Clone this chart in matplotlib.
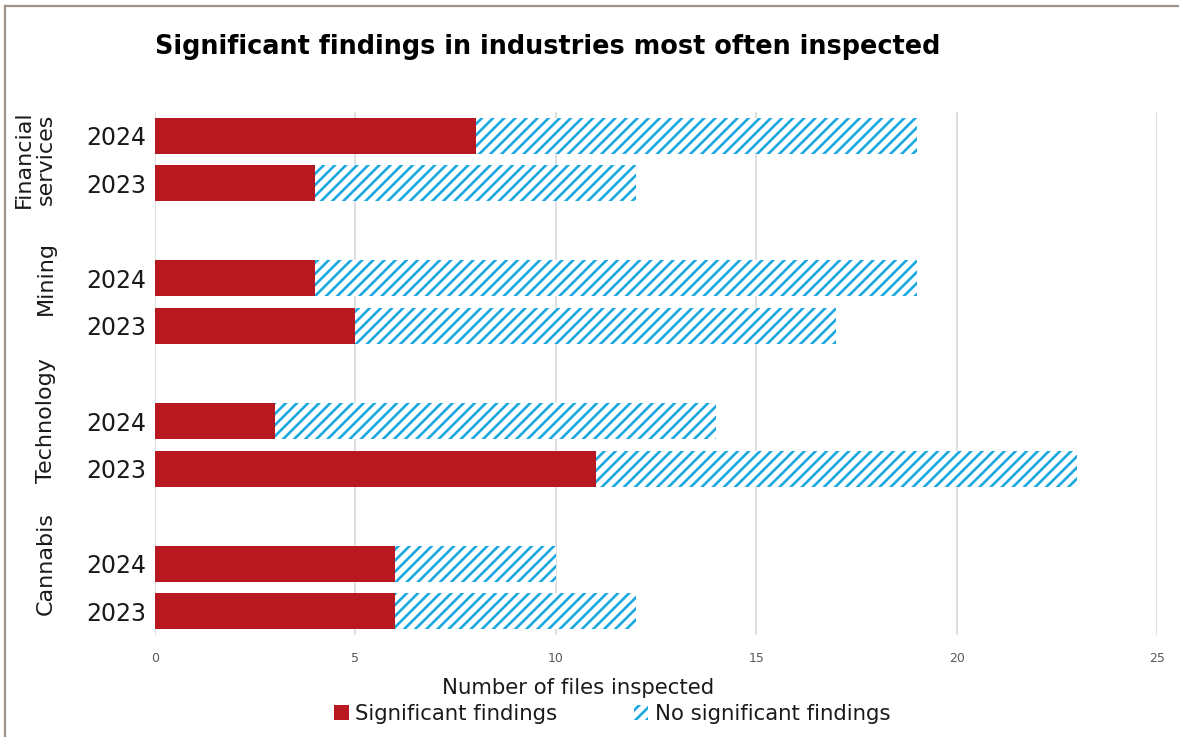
import matplotlib
matplotlib.use("Agg")
import matplotlib.pyplot as plt
from matplotlib.patches import Patch
from matplotlib.lines import Line2D

# data
industries = ["Financial\nservices", "Mining", "Technology", "Cannabis"]
years = ["2024", "2023"]
significant = [8, 4, 4, 5, 3, 11, 6, 6]
no_significant = [11, 8, 15, 12, 11, 12, 4, 6]
x_ticks = [0, 5, 10, 15, 20, 25]

RED = "#b8181f"
BLUE = "#1ba8e0"
TEXT = "#1a1a1a"

plt.rcParams["font.family"] = ["DejaVu Sans"]
plt.rcParams["hatch.linewidth"] = 1.9

fig = plt.figure(figsize=(11.79, 7.37), dpi=100)
ax = fig.add_axes([155 / 1179, 1 - 635 / 737, 1002 / 1179, 523 / 737])

# two bars per industry, then an empty slot
ypos = []
for g in range(len(industries)):
    ypos += [g * 3, g * 3 + 1]

ax.barh(ypos, significant, height=0.76, color=RED, linewidth=0, zorder=3)
ax.barh(ypos, no_significant, left=significant, height=0.76, color="white",
        edgecolor=BLUE, hatch="///", linewidth=0, zorder=3)

ax.set_ylim(10.5, -0.5)
ax.set_xlim(0, 25)
ax.set_xticks(x_ticks)
ax.tick_params(axis="x", length=0, labelsize=9, colors="#595959", pad=12)
ax.set_yticks(ypos)
ax.set_yticklabels(years * len(industries), fontsize=17, color=TEXT)
ax.tick_params(axis="y", length=0, pad=6)
ax.grid(axis="x", color="#d9d9d9", linewidth=1.2, zorder=0)
ax.set_axisbelow(True)
for s in ax.spines.values():
    s.set_visible(False)

# industry labels, rotated, left of the year labels
label_y = [0.5, 3, 6, 9]
for name, yy in zip(industries, label_y):
    ax.text(-0.099, yy, name, transform=ax.get_yaxis_transform(),
            rotation=90, ha="right", va="center", fontsize=16,
            color=TEXT, linespacing=1.15, multialignment="center")

fig.text(155 / 1179, 1 - 47 / 737,
         "Significant findings in industries most often inspected",
         fontsize=18.4, fontweight="bold", color="black", va="center", ha="left")

fig.text(578 / 1179, 1 - 688 / 737, "Number of files inspected",
         fontsize=15.3, color=TEXT, ha="center", va="center")

handles = [Patch(facecolor=RED, linewidth=0),
           Patch(facecolor="white", edgecolor=BLUE, hatch="///", linewidth=0)]
fig.legend(handles, ["Significant findings", "No significant findings"],
           loc="center", bbox_to_anchor=(612 / 1179, 1 - 714 / 737), ncol=2,
           frameon=False, fontsize=15.3, handlelength=0.7, handleheight=0.7,
           handletextpad=0.3, columnspacing=3.6, labelcolor=TEXT)

# frame lines on top and left of the figure
border = "#9e928b"
fig.add_artist(Line2D([5 / 1179, 1], [1 - 6 / 737, 1 - 6 / 737],
                      color=border, linewidth=1.6, transform=fig.transFigure))
fig.add_artist(Line2D([5 / 1179, 5 / 1179], [0, 1 - 6 / 737],
                      color=border, linewidth=1.6, transform=fig.transFigure))

fig.savefig("out.png", dpi=100, facecolor="white")
